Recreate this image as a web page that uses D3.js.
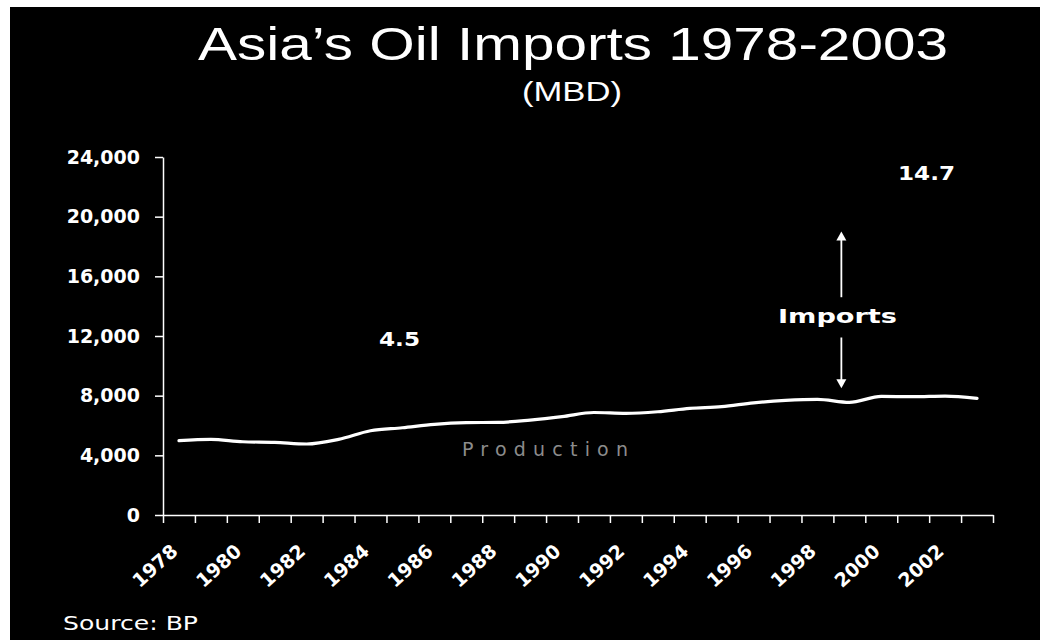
<!DOCTYPE html>
<html>
<head>
<meta charset="utf-8">
<script src="https://cdn.jsdelivr.net/npm/d3@7"></script>
<style>
  html, body { margin: 0; padding: 0; background: #ffffff; }
  svg { display: block; }
</style>
</head>
<body>
<svg id="chart" width="1043" height="640"></svg>
<script>
// ---- data ----
const years = [1978, 1979, 1980, 1981, 1982, 1983, 1984, 1985, 1986, 1987, 1988, 1989, 1990,
               1991, 1992, 1993, 1994, 1995, 1996, 1997, 1998, 1999, 2000, 2001, 2002, 2003];
const production = [4980, 5070, 4910, 4870, 4760, 5070, 5650, 5850, 6080, 6190, 6210, 6365, 6590,
                    6870, 6810, 6920, 7150, 7260, 7520, 7680, 7750, 7550, 7950, 7930, 7970, 7820];
const yTicks = [0, 4000, 8000, 12000, 16000, 20000, 24000];
const xTickLabels = [1978, 1980, 1982, 1984, 1986, 1988, 1990, 1992, 1994, 1996, 1998, 2000, 2002];
const titleText = "Asia\u2019s Oil Imports 1978-2003";
const subtitleText = "(MBD)";
const sourceText = "Source: BP";
const seriesLabel = "Production";
const importsLabel = "Imports";
const startValueLabel = "4.5";
const endValueLabel = "14.7";

// ---- layout ----
const svg = d3.select("#chart");
const plot = { left: 163, right: 993, top: 157, bottom: 515 };

svg.append("rect").attr("x", 10).attr("y", 7).attr("width", 1030).attr("height", 633).attr("fill", "#000");

const y = d3.scaleLinear().domain([0, 24000]).range([plot.bottom, plot.top]);
const xBand = d3.scaleBand().domain(years).range([plot.left, plot.right]).padding(0);
const xEdge = d3.scaleLinear().domain([0, years.length]).range([plot.left, plot.right]);
const cx = yr => xBand(yr) + xBand.bandwidth() / 2;
const xPos = v => xEdge(v - years[0] + 0.5);

// title
svg.append("text").attr("x", 573).attr("y", 60)
  .attr("text-anchor", "middle")
  .attr("font-family", "Liberation Sans, Arial, sans-serif")
  .attr("font-size", 46).attr("fill", "#fff")
  .attr("textLength", 750).attr("lengthAdjust", "spacingAndGlyphs")
  .text(titleText);
svg.append("text").attr("x", 572).attr("y", 101)
  .attr("text-anchor", "middle")
  .attr("font-family", "Liberation Sans, Arial, sans-serif")
  .attr("font-size", 27).attr("fill", "#fff")
  .attr("textLength", 100).attr("lengthAdjust", "spacingAndGlyphs")
  .text(subtitleText);

// y axis
const yAxis = svg.append("g").attr("transform", `translate(${plot.left},0)`)
  .call(d3.axisLeft(y).tickValues(yTicks).tickSize(8).tickSizeOuter(0).tickPadding(15)
    .tickFormat(d3.format(",")));
yAxis.selectAll("path, line").attr("stroke", "#fff").attr("stroke-width", 1.5);
yAxis.selectAll("text").attr("fill", "#fff")
  .attr("font-family", "DejaVu Sans, Verdana, sans-serif")
  .attr("font-weight", "bold").attr("font-size", 19);

// x axis (ticks between categories)
const xAxis = svg.append("g").attr("transform", `translate(0,${plot.bottom})`)
  .call(d3.axisBottom(xEdge).tickValues(d3.range(years.length + 1)).tickSize(8).tickSizeOuter(0)
    .tickFormat(""));
xAxis.selectAll("path, line").attr("stroke", "#fff").attr("stroke-width", 1.5);

svg.append("g").selectAll("text").data(xTickLabels).join("text")
  .attr("transform", d => `translate(${cx(d)},553) rotate(-42)`)
  .attr("text-anchor", "end")
  .attr("font-family", "DejaVu Sans, Verdana, sans-serif")
  .attr("font-weight", "bold").attr("font-size", 19)
  .attr("fill", "#fff")
  .text(d => d);

// production line
const line = d3.line().x((d, i) => cx(years[i])).y(d => y(d)).curve(d3.curveMonotoneX);
svg.append("path").datum(production)
  .attr("d", line).attr("fill", "none").attr("stroke", "#fff")
  .attr("stroke-width", 3.2).attr("stroke-linejoin", "round").attr("stroke-linecap", "round");

// annotations
const boldFont = "DejaVu Sans, Verdana, sans-serif";
svg.append("text").attr("x", 379).attr("y", y(11330))
  .attr("font-family", boldFont).attr("font-weight", "bold").attr("font-size", 19)
  .attr("fill", "#fff").attr("textLength", 41).attr("lengthAdjust", "spacingAndGlyphs")
  .text(startValueLabel);
svg.append("text").attr("x", 898).attr("y", y(22460))
  .attr("font-family", boldFont).attr("font-weight", "bold").attr("font-size", 19)
  .attr("fill", "#fff").attr("textLength", 57).attr("lengthAdjust", "spacingAndGlyphs")
  .text(endValueLabel);
svg.append("text").attr("x", 778).attr("y", y(12870))
  .attr("font-family", boldFont).attr("font-weight", "bold").attr("font-size", 20)
  .attr("fill", "#fff").attr("textLength", 119).attr("lengthAdjust", "spacingAndGlyphs")
  .text(importsLabel);
svg.append("text").attr("x", 462).attr("y", y(3955))
  .attr("font-family", boldFont).attr("font-size", 19)
  .attr("fill", "#8c8c8c").attr("textLength", 166).attr("lengthAdjust", "spacing")
  .text(seriesLabel);

// imports arrows
const ax = xPos(1998.75);
const arrowG = svg.append("g").attr("stroke", "#fff").attr("fill", "#fff");
arrowG.append("line").attr("x1", ax).attr("x2", ax).attr("y1", y(14600)).attr("y2", y(18600))
  .attr("stroke-width", 1.8);
arrowG.append("path").attr("stroke", "none")
  .attr("d", `M${ax},${y(19000)} L${ax - 5},${y(19000) + 9} L${ax + 5},${y(19000) + 9} Z`);
arrowG.append("line").attr("x1", ax).attr("x2", ax).attr("y1", y(11900)).attr("y2", y(8900))
  .attr("stroke-width", 1.8);
arrowG.append("path").attr("stroke", "none")
  .attr("d", `M${ax},${y(8500)} L${ax - 5},${y(8500) - 9} L${ax + 5},${y(8500) - 9} Z`);

// source
svg.append("text").attr("x", 63).attr("y", 630)
  .attr("font-family", boldFont).attr("font-size", 20)
  .attr("fill", "#fff").attr("textLength", 135).attr("lengthAdjust", "spacingAndGlyphs")
  .text(sourceText);
</script>
</body>
</html>
